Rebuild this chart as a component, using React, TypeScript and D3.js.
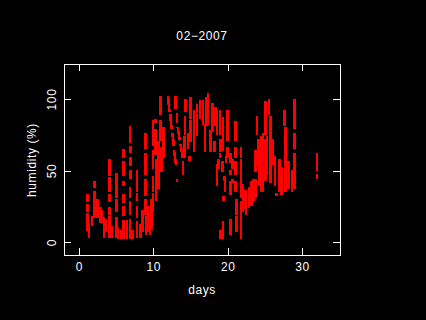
import React from "react";
import * as d3 from "d3";

// Each run: [day, highest humidity, lowest humidity, optional day at the lowest value]
type Run = number[];
const days01to05: Run[] = [
  [1.05,33,29],[1.05,26,22],[1.05,20,9],[1.3,13,4],[1.7,18,12],[2.0,42,39],[2.0,35,18],[2.4,30,18],
  [2.8,24,14],[3.05,22,14],[3.3,17,4],[3.5,16,8],[4.0,58,47],[4.0,45,36],[4.0,33,29],[4.0,24,20],[4.0,18,4],
  [4.3,11,4],[5.0,48,41],[5.0,40,32],[5.0,30,22],[5.0,17,4],
];
const days05to10: Run[] = [
  [5.2,10,3],[5.6,8,3],[5.9,65,60],[5.9,56,47],[5.9,42,40],[5.9,33,28],[5.9,25,19],[5.9,15,3],[6.4,15,3],
  [6.8,81,70],[6.9,67,63],[6.9,59,54],[6.9,50,45],[6.8,38,32],[6.8,28,20],[6.8,16,3],[7.1,8,3],
  [7.75,50,44],[7.75,42,36],[7.75,34,30],[7.75,25,18],[7.75,14,4],[8.2,12,4],[8.5,22,8],
  [8.85,76,66],[8.85,62,48],[8.85,44,33],[8.85,30,20],[8.95,18,6],[9.2,25,8],[9.5,20,6],[9.7,30,10],
  [9.9,85,68],[9.9,64,52],[9.9,46,36],[9.9,34,22],[9.6,23,10],
];
const days10to15: Run[] = [
  [10.2,86,84],[10.2,79,62],[10.3,58,30],[10.6,70,38],[10.9,102,90],[10.9,85,72],[11.0,66,50],[11.3,80,60],
  [11.9,102,92,12.1,92],[12.2,89,80,12.4,80],[12.5,76,68,12.7,68],[12.7,64,55,13.0,55],[13.1,44,43],
  [12.9,102,94],[13.1,90,84],[13.2,80,72,13.5,72],[13.6,68,60,13.9,60],[13.9,56,48],
  [14.3,100,92],[14.2,88,76],[14.1,74,60],[14.9,101,87],[14.9,85,71],[14.6,76,66],[15.4,92,64],[14.8,60,58],
];
const days15to20: Run[] = [
  [15.8,96,91],[15.8,89,83],[15.8,82,75],[16.2,99,87],[16.6,99,83],[16.9,82,64],[17.1,101,82],[17.3,104,83],
  [17.6,78,64],[17.9,97,78],[18.3,94,82],[18.5,92,76],[18.2,70,64],[19.3,87,65],[18.9,92,76],
  [19.0,72,64],[18.9,62,60],[18.5,54,40],[18.7,58,52],[19.2,56,50],[19.7,60,56],[19.5,46,44],
  [19.4,32,30],[19.3,14,3],[19.0,8,3],[19.9,92,86],[19.9,84,72],[19.9,66,60],[19.6,44,36],[20.3,62,56],[20.3,50,48],[20.3,42,34],[20.3,16,6],[20.6,58,52],[20.6,44,42],
];
const days20to25: Run[] = [
  [21.0,84,72],[21.0,66,60],[21.0,56,48],[21.0,42,36],[21.1,30,20],[21.1,18,8],[21.7,66,60],[21.7,58,32],[21.7,28,3],
  [22.0,40,22],[22.1,36,24],[22.4,36,20],[22.8,38,25],[23.1,42,26],[23.4,44,30],[23.7,64,50],[23.7,44,32],
  [23.9,88,76],[24.0,72,54],[24.2,72,40],[24.4,74,36],[24.7,76,36],[25.0,98,76],[25.0,72,44],[25.2,74,48],
];
const days25to32: Run[] = [
  [25.5,100,90],[25.7,88,72],[25.7,70,42],[26.0,72,55],[26.3,60,40],[26.5,34,33],[26.9,58,36],[27.2,52,34],
  [27.6,92,82],[27.7,80,36],[28.1,56,38],[28.6,50,36],[28.9,100,85],[28.9,84,80],[28.9,76,66],[28.9,62,38],
  [31.95,62,61],[31.95,60,55],[31.95,54,51],[31.95,47,45],
];
const allRuns: Run[] = [...days01to05, ...days05to10, ...days10to15, ...days15to20, ...days20to25, ...days25to32];
const xTicks = [0, 10, 20, 30];
const yTicks = [0, 50, 100];

const font = "'Liberation Sans', sans-serif";

export default function App() {
  const x = d3.scaleLinear().domain([0, 30]).range([79.5, 302.5]);
  const y = d3.scaleLinear().domain([0, 100]).range([242.5, 99.5]);
  const color = "#ff0000";
  const white = "#ffffff";
  const textProps = { fill: white, fontFamily: font, fontSize: 12, letterSpacing: 0.6, textAnchor: "middle" as const };
  return (
    <svg width={426} height={320} style={{ position: "absolute", left: 0, top: 0, background: "#000" }}>
      <rect width={426} height={320} fill="#000" />
      <g stroke={color} strokeWidth={2.6} shapeRendering="crispEdges">
        {allRuns.map((r, i) => (
          <line key={i} x1={x(r[0])} x2={x(r[3] ?? r[0])} y1={y(r[1]) - 1} y2={y(r[4] ?? r[2]) + 1} />
        ))}
      </g>
      <rect x={64.5} y={64.5} width={275.5} height={190.5} fill="none" stroke={white} shapeRendering="crispEdges" />
      <g stroke={white} shapeRendering="crispEdges">
        {xTicks.map((t) => (
          <g key={t}>
            <line x1={x(t)} x2={x(t)} y1={64.5} y2={71} />
            <line x1={x(t)} x2={x(t)} y1={248} y2={255} />
          </g>
        ))}
        {yTicks.map((t) => (
          <g key={t}>
            <line x1={64.5} x2={71} y1={y(t)} y2={y(t)} />
            <line x1={333} x2={340} y1={y(t)} y2={y(t)} />
          </g>
        ))}
      </g>
      {xTicks.map((t) => (
        <text key={t} x={x(t)} y={271} {...textProps}>{t}</text>
      ))}
      {yTicks.map((t) => (
        <text key={t} transform={`translate(56,${y(t)}) rotate(-90)`} {...textProps}>{t}</text>
      ))}
      <text x={202} y={40} {...textProps}>02−2007</text>
      <text x={202} y={294} {...textProps}>days</text>
      <text transform="translate(36,160) rotate(-90)" {...textProps}>humidity (%)</text>
    </svg>
  );
}
